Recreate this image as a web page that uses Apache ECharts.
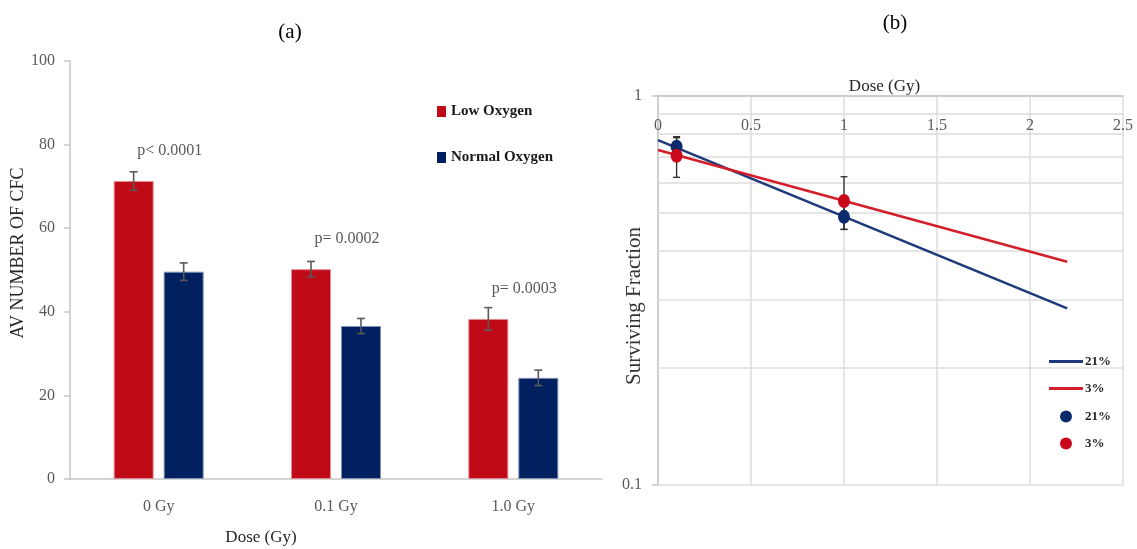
<!DOCTYPE html>
<html>
<head>
<meta charset="utf-8">
<script src="https://cdn.jsdelivr.net/npm/echarts@6/dist/echarts.min.js"></script>
<style>
html, body { margin: 0; padding: 0; background: #ffffff; }
#chart { width: 1137px; height: 549px; }
</style>
</head>
<body>
<div id="chart"></div>
<script>
// ---- Panel (a): average colony count per dose ----
const doseCategories = ['0 Gy', '0.1 Gy', '1.0 Gy'];
const lowOxygen = [71.3, 50.2, 38.3];
const lowOxygenErr = [2.2, 1.85, 2.7];
const normalOxygen = [49.6, 36.6, 24.2];
const normalOxygenErr = [2.1, 1.8, 1.85];
const pValueLabels = ['p< 0.0001', 'p= 0.0002', 'p= 0.0003'];
const countTicks = { min: 0, max: 100, interval: 20 };

// ---- Panel (b): surviving fraction vs dose (log scale) ----
const survivalDose = [0.1, 1];
const survival21 = [0.741, 0.489];
const survival21Err = [0.04, 0.035];
const survival3 = [0.702, 0.537];
const survival3Err = [0.084, 0.083];
const fitDose = [0, 2.2];
const fit21 = [0.770, 0.2845];
const fit3 = [0.7265, 0.375];
const doseTicks = { min: 0, max: 2.5, interval: 0.5 };
const fractionRange = { min: 0.1, max: 1 };
const minorGridValues = [0.2, 0.3, 0.4, 0.5, 0.6, 0.7, 0.8, 0.9];

const SERIF = "'Liberation Serif', 'Times New Roman', serif";
const RED_BAR = '#c00a17';
const BLUE_BAR = '#012060';
const RED_LINE = '#d41f2a';
const BLUE_LINE = '#1f3a7a';
const RED_DOT = '#c9091b';
const BLUE_DOT = '#0b2a6c';
const AXIS_GREY = '#c6c6c6';
const GRID_GREY = '#dcdcdc';
const TICK_TEXT = '#595959';

const BAR_WIDTH = 40;
const BAR_GAP = 10;
const barShift = (BAR_WIDTH + BAR_GAP) / 2;

function barErrorSeries(name, values, errs, shift) {
  return {
    type: 'custom',
    name: name,
    xAxisIndex: 0,
    yAxisIndex: 0,
    z: 4,
    silent: true,
    data: values.map((v, i) => [i, v - errs[i], v + errs[i]]),
    renderItem(params, api) {
      const lo = api.coord([api.value(0), api.value(1)]);
      const hi = api.coord([api.value(0), api.value(2)]);
      const x = lo[0] + shift;
      const style = { stroke: '#595959', lineWidth: 1.6 };
      return {
        type: 'group',
        children: [
          { type: 'line', shape: { x1: x, y1: lo[1], x2: x, y2: hi[1] }, style: style },
          { type: 'line', shape: { x1: x - 4, y1: hi[1], x2: x + 4, y2: hi[1] }, style: style },
          { type: 'line', shape: { x1: x - 4, y1: lo[1], x2: x + 4, y2: lo[1] }, style: style }
        ]
      };
    }
  };
}

function survivalErrorSeries(name, xs, ys, errs) {
  return {
    type: 'custom',
    name: name,
    xAxisIndex: 1,
    yAxisIndex: 1,
    z: 4,
    silent: true,
    data: xs.map((x, i) => [x, ys[i] - errs[i], ys[i] + errs[i]]),
    renderItem(params, api) {
      const lo = api.coord([api.value(0), api.value(1)]);
      const hi = api.coord([api.value(0), api.value(2)]);
      const x = lo[0];
      const style = { stroke: '#2b2b2b', lineWidth: 1.3 };
      return {
        type: 'group',
        children: [
          { type: 'line', shape: { x1: x, y1: lo[1], x2: x, y2: hi[1] }, style: style },
          { type: 'line', shape: { x1: x - 3.5, y1: hi[1], x2: x + 3.5, y2: hi[1] }, style: style },
          { type: 'line', shape: { x1: x - 3.5, y1: lo[1], x2: x + 3.5, y2: lo[1] }, style: style }
        ]
      };
    }
  };
}

const chart = echarts.init(document.getElementById('chart'), null, { renderer: 'canvas' });

const option = {
  backgroundColor: '#ffffff',
  animation: false,
  textStyle: { fontFamily: SERIF },
  title: [
    { text: '(a)', left: 290, top: 22, textAlign: 'center', padding: 0,
      textStyle: { fontFamily: SERIF, fontSize: 21, fontWeight: 'normal', color: '#000000' } },
    { text: '(b)', left: 895, top: 13, textAlign: 'center', padding: 0,
      textStyle: { fontFamily: SERIF, fontSize: 21, fontWeight: 'normal', color: '#000000' } }
  ],
  legend: [
    {
      data: ['Low Oxygen', 'Normal Oxygen'],
      orient: 'vertical',
      left: 437, top: 104,
      padding: 0,
      itemGap: 31,
      itemWidth: 9, itemHeight: 11,
      icon: 'rect',
      itemStyle: { borderWidth: 0 },
      selectedMode: false,
      textStyle: { fontFamily: SERIF, fontSize: 15, fontWeight: 'bold', color: '#1a1a1a' }
    },
    {
      data: ['21%', '3%'],
      orient: 'vertical',
      left: 1049, top: 355,
      padding: 0,
      itemGap: 14,
      itemWidth: 34, itemHeight: 3,
      icon: 'rect',
      selectedMode: false,
      textStyle: { fontFamily: SERIF, fontSize: 13, fontWeight: 'bold', color: '#262626', padding: [0, 0, 0, -3] }
    },
    {
      data: ['dots 21%', 'dots 3%'],
      orient: 'vertical',
      left: 1060, top: 410,
      padding: 0,
      itemGap: 14,
      itemWidth: 12, itemHeight: 14,
      icon: 'circle',
      selectedMode: false,
      formatter: (name) => name.replace('dots ', ''),
      textStyle: { fontFamily: SERIF, fontSize: 13, fontWeight: 'bold', color: '#262626', padding: [0, 0, 0, 8] }
    }
  ],
  grid: [
    { left: 70, top: 61, width: 532, height: 418, outerBoundsMode: 'none' },
    { left: 658, top: 96, width: 465, height: 389, outerBoundsMode: 'none' }
  ],
  xAxis: [
    {
      type: 'category',
      gridIndex: 0,
      data: doseCategories,
      axisLine: { show: true, lineStyle: { color: AXIS_GREY, width: 1.5 } },
      axisTick: { show: false },
      axisLabel: { margin: 20, fontFamily: SERIF, fontSize: 16, color: TICK_TEXT },
      splitLine: { show: false },
      name: 'Dose (Gy)',
      nameLocation: 'middle',
      nameGap: 50,
      nameMoveOverlap: false,
      nameTextStyle: { fontFamily: SERIF, fontSize: 17, color: '#262626', padding: [0, 150, 0, 0] }
    },
    {
      type: 'value',
      gridIndex: 1,
      position: 'top',
      min: doseTicks.min, max: doseTicks.max, interval: doseTicks.interval,
      axisLine: { show: true, onZero: false, lineStyle: { color: AXIS_GREY, width: 1.5 } },
      axisTick: { show: false },
      axisLabel: { inside: true, margin: 22, fontFamily: SERIF, fontSize: 16, color: TICK_TEXT },
      splitLine: { show: true, lineStyle: { color: GRID_GREY, width: 1.5 } },
      name: 'Dose (Gy)',
      nameLocation: 'middle',
      nameGap: 1,
      nameMoveOverlap: false,
      nameTextStyle: { fontFamily: SERIF, fontSize: 17, color: '#262626', padding: [0, 12, 0, 0] }
    }
  ],
  yAxis: [
    {
      type: 'value',
      gridIndex: 0,
      min: countTicks.min, max: countTicks.max, interval: countTicks.interval,
      axisLine: { show: true, lineStyle: { color: AXIS_GREY, width: 1.5 } },
      axisTick: { show: true, length: 6, lineStyle: { color: AXIS_GREY, width: 1.5 } },
      axisLabel: { margin: 15, fontFamily: SERIF, fontSize: 16, color: TICK_TEXT },
      splitLine: { show: false },
      name: 'AV NUMBER OF CFC',
      nameLocation: 'middle',
      nameGap: 43,
      nameMoveOverlap: false,
      nameTextStyle: { fontFamily: SERIF, fontSize: 18, color: '#262626', padding: [0, 0, 0, 34] }
    },
    {
      type: 'log',
      gridIndex: 1,
      logBase: 10,
      min: fractionRange.min, max: fractionRange.max,
      axisLine: { show: true, onZero: false, lineStyle: { color: AXIS_GREY, width: 1.5 } },
      axisTick: { show: true, length: 6, lineStyle: { color: AXIS_GREY, width: 1.5 } },
      axisLabel: { margin: 16, fontFamily: SERIF, fontSize: 16, color: TICK_TEXT },
      splitLine: { show: true, lineStyle: { color: GRID_GREY, width: 1.5 } },
      name: 'Surviving Fraction',
      nameLocation: 'middle',
      nameGap: 13,
      nameMoveOverlap: false,
      nameTextStyle: { fontFamily: SERIF, fontSize: 21, color: '#333333', padding: [0, 31, 0, 0] }
    }
  ],
  series: [
    {
      name: 'Low Oxygen',
      type: 'bar',
      xAxisIndex: 0, yAxisIndex: 0,
      data: lowOxygen,
      barWidth: BAR_WIDTH,
      barGap: (BAR_GAP / BAR_WIDTH * 100) + '%',
      itemStyle: { color: RED_BAR, borderColor: '#e58a90', borderWidth: 1 },
      label: {
        show: true,
        position: 'top',
        distance: 22,
        offset: [36, 0],
        formatter: (p) => pValueLabels[p.dataIndex],
        fontFamily: SERIF, fontSize: 16, color: TICK_TEXT
      }
    },
    {
      name: 'Normal Oxygen',
      type: 'bar',
      xAxisIndex: 0, yAxisIndex: 0,
      data: normalOxygen,
      barWidth: BAR_WIDTH,
      barGap: (BAR_GAP / BAR_WIDTH * 100) + '%',
      itemStyle: { color: BLUE_BAR, borderColor: '#7f93b8', borderWidth: 1 }
    },
    barErrorSeries('Low Oxygen error', lowOxygen, lowOxygenErr, -barShift),
    barErrorSeries('Normal Oxygen error', normalOxygen, normalOxygenErr, barShift),

    // minor log gridlines (0.2 ... 0.9)
    {
      name: 'minor grid',
      type: 'line',
      xAxisIndex: 1, yAxisIndex: 1,
      data: [],
      silent: true,
      markLine: {
        silent: true,
        symbol: 'none',
        z: 1,
        label: { show: false },
        lineStyle: { color: GRID_GREY, width: 1.5, type: 'solid' },
        data: minorGridValues.map((v) => ({ yAxis: v }))
      }
    },
    {
      name: '21%',
      type: 'line',
      xAxisIndex: 1, yAxisIndex: 1,
      data: fitDose.map((d, i) => [d, fit21[i]]),
      symbol: 'none',
      lineStyle: { color: BLUE_LINE, width: 2.6 },
      itemStyle: { color: BLUE_LINE },
      z: 3
    },
    {
      name: '3%',
      type: 'line',
      xAxisIndex: 1, yAxisIndex: 1,
      data: fitDose.map((d, i) => [d, fit3[i]]),
      symbol: 'none',
      lineStyle: { color: RED_LINE, width: 2.6 },
      itemStyle: { color: RED_LINE },
      z: 3
    },
    survivalErrorSeries('21% error', survivalDose, survival21, survival21Err),
    survivalErrorSeries('3% error', survivalDose, survival3, survival3Err),
    {
      name: 'dots 21%',
      type: 'scatter',
      xAxisIndex: 1, yAxisIndex: 1,
      data: survivalDose.map((d, i) => [d, survival21[i]]),
      symbol: 'circle',
      symbolSize: [12, 14],
      itemStyle: { color: BLUE_DOT, opacity: 1 },
      z: 5
    },
    {
      name: 'dots 3%',
      type: 'scatter',
      xAxisIndex: 1, yAxisIndex: 1,
      data: survivalDose.map((d, i) => [d, survival3[i]]),
      symbol: 'circle',
      symbolSize: [12, 14],
      itemStyle: { color: RED_DOT, opacity: 1 },
      z: 5
    }
  ]
};

chart.setOption(option);
</script>
</body>
</html>
